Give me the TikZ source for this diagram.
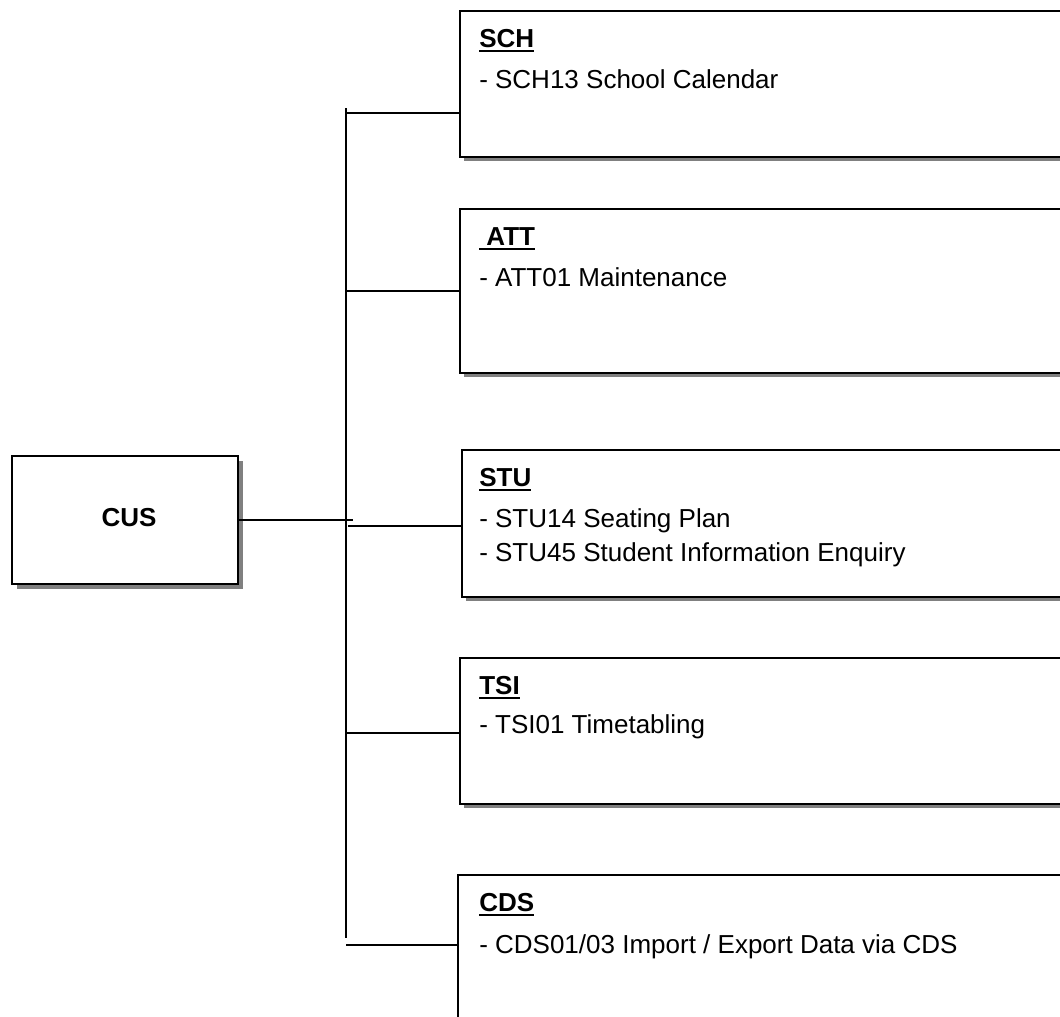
\documentclass[tikz,border=0pt]{standalone}
\usepackage{fontspec}
\setmainfont{Liberation Sans}
\usetikzlibrary{shadows}
\newcommand\hdl[1]{\setbox0\hbox{\bfseries #1}\rlap{\usebox0}\rule[-3.6pt]{\wd0}{1.5pt}}
\begin{document}
\begin{tikzpicture}[x=0.75pt,y=-0.75pt,
 box/.style={draw=black, line width=1.4pt, fill=white, inner sep=0pt, anchor=north west,
   drop shadow={shadow xshift=3.4pt, shadow yshift=-3.4pt, fill=black!50, opacity=1}},
 ln/.style={line width=1pt},
 txt/.style={anchor=base west, inner sep=0pt, font=\fontsize{19.5}{24}\selectfont}]
\useasboundingbox (0,0) rectangle (1060,1017);
\begin{scope}
\clip (0,0) rectangle (1060,1017);
% central box
\node[box, anchor=center, minimum width=226*0.75pt, minimum height=128*0.75pt] (cus) at (125,520) {};
\node[font=\fontsize{19.5}{24}\selectfont\bfseries, inner sep=0pt] (cusT) at (129,518) {CUS};
% right boxes
\node[box, minimum width=616*0.75pt, minimum height=146*0.75pt] (sch) at (459,10) {};
\node[box, minimum width=616*0.75pt, minimum height=164*0.75pt] (att) at (459,208) {};
\node[box, minimum width=614*0.75pt, minimum height=147*0.75pt] (stu) at (461,449) {};
\node[box, minimum width=616*0.75pt, minimum height=146*0.75pt] (tsi) at (459,657) {};
\node[box, minimum width=618*0.75pt, minimum height=170*0.75pt] (cds) at (457,874) {};
% texts
\node[txt] (schH) at ([shift={(20,37)}]sch.north west) {\hdl{SCH}};
\node[txt] (schA) at ([shift={(20,78)}]sch.north west) {- SCH13 School Calendar};
\node[txt] (attH) at ([shift={(20,37)}]att.north west) {\hdl{\ ATT}};
\node[txt] (attA) at ([shift={(20,78)}]att.north west) {- ATT01 Maintenance};
\node[txt] (stuH) at ([shift={(18,37)}]stu.north west) {\hdl{STU}};
\node[txt] (stuA) at ([shift={(18,78)}]stu.north west) {- STU14 Seating Plan};
\node[txt] (stuB) at ([shift={(18,112)}]stu.north west) {- STU45 Student Information Enquiry};
\node[txt] (tsiH) at ([shift={(20,37)}]tsi.north west) {\hdl{TSI}};
\node[txt] (tsiA) at ([shift={(20,76)}]tsi.north west) {- TSI01 Timetabling};
\node[txt] (cdsH) at ([shift={(22,37)}]cds.north west) {\hdl{CDS}};
\node[txt] (cdsA) at ([shift={(22,79)}]cds.north west) {- CDS01/03 Import / Export Data via CDS};
% spine and junctions
\coordinate (sT) at (346,108);
\coordinate (sB) at (346,938);
\coordinate (j1) at (346,113);
\coordinate (j2) at (346,291);
\coordinate (j3) at (348,526);
\coordinate (j4) at (346,733);
\coordinate (j5) at (346,945);
\coordinate (jc) at (353,520);
\draw[ln] (sT) -- (sB);
\draw[ln] (cus.east) -- (jc);
\draw[ln] (j1) -- (j1 -| sch.west);
\draw[ln] (j2) -- (j2 -| att.west);
\draw[ln] (j3) -- (j3 -| stu.west);
\draw[ln] (j4) -- (j4 -| tsi.west);
\draw[ln] (j5) -- (j5 -| cds.west);
\end{scope}
\end{tikzpicture}
\end{document}
